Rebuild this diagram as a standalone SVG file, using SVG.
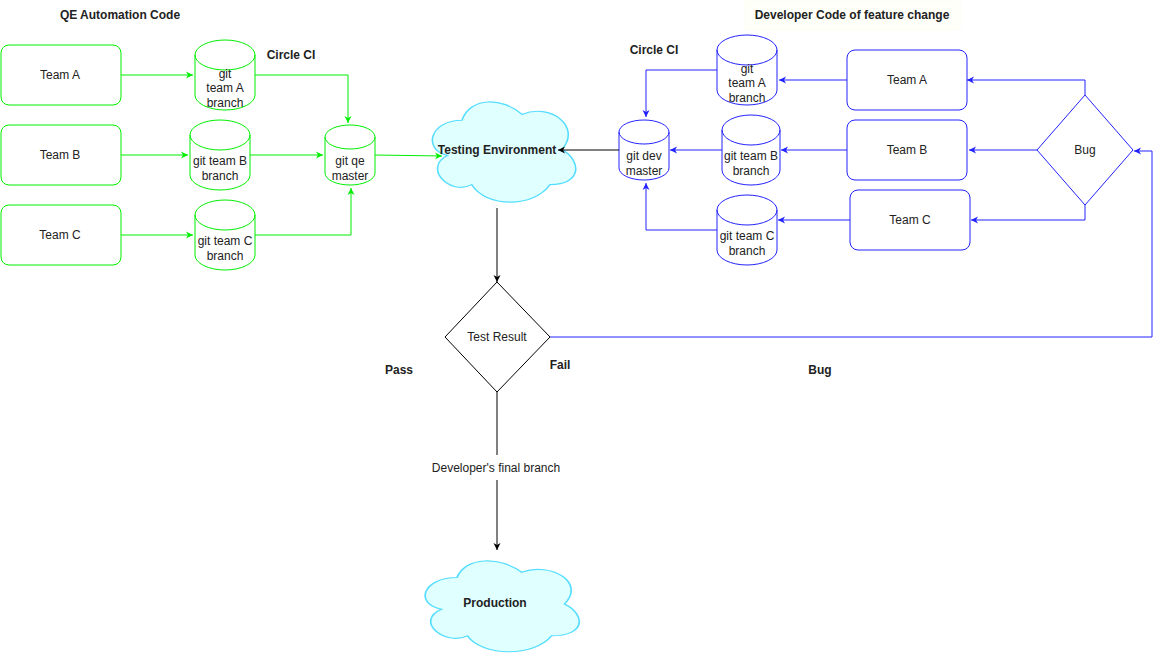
<svg xmlns="http://www.w3.org/2000/svg" width="1161" height="656" viewBox="0 0 1161 656">
<style>
text{font-family:"Liberation Sans",Arial,sans-serif;font-size:12px;fill:#222;text-anchor:middle}
.b{font-weight:bold}
.g{fill:#fff;stroke:#00ee00;stroke-width:1}
.u{fill:#fff;stroke:#2222ff;stroke-width:1}
.cl{fill:#e0ffff;stroke:#55ddff;stroke-width:1;vector-effect:non-scaling-stroke}
.eg{fill:none;stroke:#00ee00;stroke-width:1}
.eu{fill:none;stroke:#2222ff;stroke-width:1}
.ek{fill:none;stroke:#000;stroke-width:1}
</style>
<defs>
<marker id="ag" markerWidth="8" markerHeight="8" refX="7" refY="4" orient="auto" markerUnits="userSpaceOnUse"><path d="M0,0.5 L7,4 L0,7.5 L2,4Z" fill="#00ee00"/></marker>
<marker id="au" markerWidth="8" markerHeight="8" refX="7" refY="4" orient="auto" markerUnits="userSpaceOnUse"><path d="M0,0.5 L7,4 L0,7.5 L2,4Z" fill="#2222ff"/></marker>
<marker id="ak" markerWidth="8" markerHeight="8" refX="7" refY="4" orient="auto" markerUnits="userSpaceOnUse"><path d="M0,0.5 L7,4 L0,7.5 L2,4Z" fill="#000"/></marker>
<path id="cloud" d="M25,25 C5,25 0,50 16,55 C0,66 18,90 31,80 C40,100 70,100 80,80 C100,80 100,60 87.5,50 C100,30 80,10 62.5,20 C50,5 30,5 25,25Z"/>
</defs>
<rect x="745" y="1" width="215" height="29" fill="#fffffa" stroke="#fbfbe8" stroke-width="0.5"/>
<text class="b" x="120" y="19">QE Automation Code</text>
<text class="b" x="852" y="19">Developer Code of feature change</text>
<text class="b" x="291" y="59">Circle CI</text>
<text class="b" x="654" y="54">Circle CI</text>
<text class="b" x="399" y="374">Pass</text>
<text class="b" x="560" y="369">Fail</text>
<text class="b" x="820" y="374">Bug</text>

<g id="qeTeamA"><rect class="g" x="1" y="45" width="120" height="60" rx="8"/><text x="60" y="79">Team A</text></g>
<g id="qeTeamB"><rect class="g" x="1" y="125" width="120" height="60" rx="8"/><text x="60" y="159">Team B</text></g>
<g id="qeTeamC"><rect class="g" x="1" y="205" width="120" height="60" rx="8"/><text x="60" y="239">Team C</text></g>

<g id="qeCylA"><path class="g" d="M195,55A30,15 0 0 1 255,55V95A30,15 0 0 1 195,95Z M195,55A30,15 0 0 0 255,55"/><text x="225" y="78">git</text><text x="225" y="92">team A</text><text x="225" y="107">branch</text></g>
<g id="qeCylB"><path class="g" d="M190,135A30,15 0 0 1 250,135V175A30,15 0 0 1 190,175Z M190,135A30,15 0 0 0 250,135"/><text x="220" y="165">git team B</text><text x="220" y="180">branch</text></g>
<g id="qeCylC"><path class="g" d="M195,215A30,15 0 0 1 255,215V255A30,15 0 0 1 195,255Z M195,215A30,15 0 0 0 255,215"/><text x="225" y="245">git team C</text><text x="225" y="260">branch</text></g>
<g id="qeMaster"><path class="g" d="M325,137A25,12 0 0 1 375,137V173A25,12 0 0 1 325,173Z M325,137A25,12 0 0 0 375,137"/><text x="350" y="165">git qe</text><text x="350" y="180">master</text></g>

<g id="testingEnv"><use href="#cloud" class="cl" transform="translate(422,91) scale(1.6,1.17)"/><text class="b" x="497" y="154">Testing Environment</text></g>
<g id="production"><use href="#cloud" class="cl" transform="translate(414,551) scale(1.72,1.06)"/><text class="b" x="495" y="607">Production</text></g>
<g id="testResult"><path d="M497,282L550,337L497,392L445,337Z" fill="#fff" stroke="#000" stroke-width="1"/><text x="497" y="341">Test Result</text></g>

<g id="devMaster"><path class="u" d="M619,132A25,12 0 0 1 669,132V168A25,12 0 0 1 619,168Z M619,132A25,12 0 0 0 669,132"/><text x="644" y="160">git dev</text><text x="644" y="175">master</text></g>
<g id="devCylA"><path class="u" d="M717,50A30,15 0 0 1 777,50V90A30,15 0 0 1 717,90Z M717,50A30,15 0 0 0 777,50"/><text x="747" y="73">git</text><text x="747" y="87">team A</text><text x="747" y="102">branch</text></g>
<g id="devCylB"><path class="u" d="M722,130A29,15 0 0 1 780,130V170A29,15 0 0 1 722,170Z M722,130A29,15 0 0 0 780,130"/><text x="751" y="160">git team B</text><text x="751" y="175">branch</text></g>
<g id="devCylC"><path class="u" d="M717,210A30,15 0 0 1 777,210V250A30,15 0 0 1 717,250Z M717,210A30,15 0 0 0 777,210"/><text x="747" y="240">git team C</text><text x="747" y="255">branch</text></g>
<g id="devTeamA"><rect class="u" x="847" y="50" width="120" height="60" rx="8"/><text x="907" y="84">Team A</text></g>
<g id="devTeamB"><rect class="u" x="847" y="120" width="120" height="60" rx="8"/><text x="907" y="154">Team B</text></g>
<g id="devTeamC"><rect class="u" x="850" y="190" width="120" height="60" rx="8"/><text x="910" y="224">Team C</text></g>
<g id="bug"><path class="u" d="M1085,95L1133,150L1085,205L1037,150Z"/><text x="1085" y="154">Bug</text></g>

<g id="edges">
<path class="eg" d="M121,75H193" marker-end="url(#ag)"/>
<path class="eg" d="M121,155H188" marker-end="url(#ag)"/>
<path class="eg" d="M121,235H193" marker-end="url(#ag)"/>
<path class="eg" d="M255,75H348V123" marker-end="url(#ag)"/>
<path class="eg" d="M250,155H323" marker-end="url(#ag)"/>
<path class="eg" d="M255,235H351V188" marker-end="url(#ag)"/>
<path class="eg" d="M375,155L442,156" marker-end="url(#ag)"/>
<path class="ek" d="M619,150H558" marker-end="url(#ak)"/>
<path class="ek" d="M497,208V282" marker-end="url(#ak)"/>
<path class="ek" d="M497,392V455"/>
<path class="ek" d="M497,480V550" marker-end="url(#ak)"/>
<path class="eu" d="M550,337H1152V151H1134" marker-end="url(#au)"/>
<path class="eu" d="M1085,95V80H967" marker-end="url(#au)"/>
<path class="eu" d="M1037,150H969" marker-end="url(#au)"/>
<path class="eu" d="M1085,205V220H971" marker-end="url(#au)"/>
<path class="eu" d="M847,80H779" marker-end="url(#au)"/>
<path class="eu" d="M847,150H781" marker-end="url(#au)"/>
<path class="eu" d="M850,220H778" marker-end="url(#au)"/>
<path class="eu" d="M717,70H646V117" marker-end="url(#au)"/>
<path class="eu" d="M722,150H670" marker-end="url(#au)"/>
<path class="eu" d="M717,230H646V183" marker-end="url(#au)"/>
</g>
<text x="496" y="472">Developer's final branch</text>
</svg>
